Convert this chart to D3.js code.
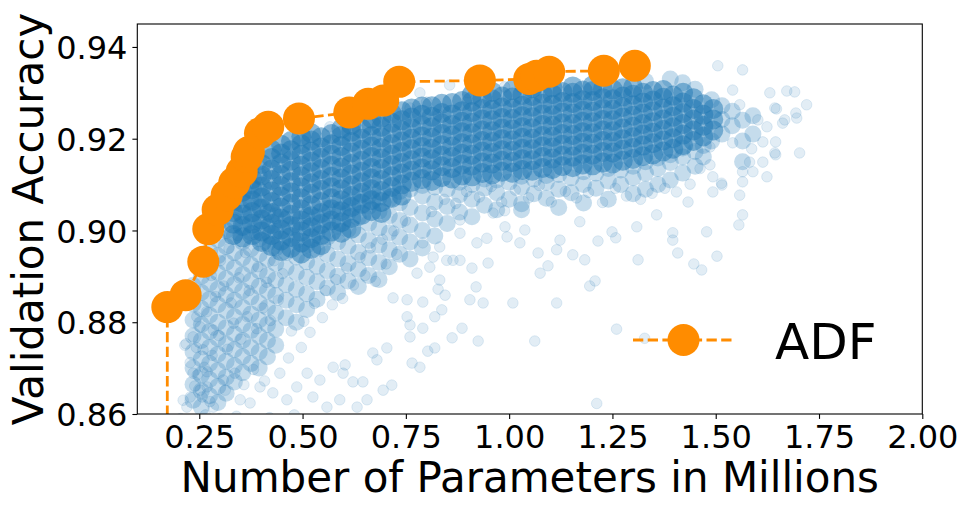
<!DOCTYPE html>
<html>
<head>
<meta charset="utf-8">
<script src="https://cdn.jsdelivr.net/npm/d3@7"></script>
<style>
  body { margin: 0; background: #fff; }
  svg { display: block; }
</style>
</head>
<body>
<script>
// axis ticks
const xTicks = [0.25, 0.5, 0.75, 1.0, 1.25, 1.5, 1.75, 2.0];
const yTicks = [0.86, 0.88, 0.90, 0.92, 0.94];

// ADF pareto front (params in millions, validation accuracy)
const frontParams = [0.1726, 0.2171, 0.2597, 0.2718, 0.2945, 0.3163, 0.3347, 0.3526, 0.3647, 0.3700, 0.3969, 0.4170,
  0.4912, 0.6130, 0.6589, 0.6952, 0.7339, 0.9292, 1.0485, 1.0664, 1.0969, 1.2292, 1.3042];
const frontAcc = [0.8833, 0.8859, 0.8932, 0.9003, 0.9045, 0.9077, 0.9104, 0.9128, 0.9160, 0.9171, 0.9212, 0.9226,
  0.9244, 0.9257, 0.9276, 0.9283, 0.9324, 0.9327, 0.9330, 0.9337, 0.9346, 0.9348, 0.9359];

// sampled models, dense core of the cloud: [params, [accuracies]]
const denseColumns = [
  [0.332, [0.8990, 0.9015, 0.9040]],
  [0.355, [0.8985, 0.9010, 0.9035, 0.9060, 0.9085]],
  [0.378, [0.8990, 0.9015, 0.9040, 0.9065, 0.9090, 0.9112]],
  [0.401, [0.8975, 0.8998, 0.9024, 0.9048, 0.9072, 0.9096, 0.9120, 0.9145]],
  [0.425, [0.8966, 0.8990, 0.9014, 0.9038, 0.9062, 0.9085, 0.9110, 0.9133, 0.9158, 0.9176]],
  [0.448, [0.8955, 0.8978, 0.9002, 0.9026, 0.9050, 0.9074, 0.9097, 0.9121, 0.9146, 0.9168, 0.9187]],
  [0.472, [0.8962, 0.8986, 0.9010, 0.9034, 0.9058, 0.9083, 0.9105, 0.9130, 0.9152, 0.9175, 0.9195]],
  [0.497, [0.8950, 0.8974, 0.8998, 0.9022, 0.9046, 0.9070, 0.9094, 0.9118, 0.9141, 0.9165, 0.9188, 0.9205]],
  [0.521, [0.8960, 0.8983, 0.9007, 0.9031, 0.9055, 0.9080, 0.9103, 0.9127, 0.9150, 0.9172, 0.9196, 0.9212]],
  [0.545, [0.8968, 0.8990, 0.9014, 0.9038, 0.9062, 0.9088, 0.9110, 0.9134, 0.9158, 0.9181, 0.9203]],
  [0.570, [0.8998, 0.9022, 0.9046, 0.9070, 0.9094, 0.9117, 0.9141, 0.9165, 0.9188, 0.9210]],
  [0.594, [0.8995, 0.9018, 0.9042, 0.9066, 0.9090, 0.9113, 0.9137, 0.9160, 0.9184, 0.9206, 0.9222]],
  [0.618, [0.9004, 0.9027, 0.9051, 0.9075, 0.9098, 0.9122, 0.9145, 0.9170, 0.9193, 0.9215, 0.9230]],
  [0.643, [0.9034, 0.9058, 0.9082, 0.9105, 0.9128, 0.9152, 0.9176, 0.9200, 0.9222]],
  [0.667, [0.9042, 0.9066, 0.9090, 0.9113, 0.9136, 0.9160, 0.9183, 0.9206, 0.9229, 0.9244]],
  [0.691, [0.9038, 0.9062, 0.9086, 0.9110, 0.9134, 0.9157, 0.9180, 0.9203, 0.9226, 0.9246]],
  [0.716, [0.9071, 0.9095, 0.9118, 0.9142, 0.9165, 0.9188, 0.9212, 0.9235, 0.9255]],
  [0.740, [0.9076, 0.9100, 0.9124, 0.9147, 0.9171, 0.9194, 0.9218, 0.9240, 0.9260]],
  [0.764, [0.9106, 0.9130, 0.9153, 0.9177, 0.9200, 0.9223, 0.9246, 0.9266]],
  [0.789, [0.9112, 0.9135, 0.9159, 0.9182, 0.9205, 0.9229, 0.9252, 0.9270]],
  [0.813, [0.9108, 0.9131, 0.9155, 0.9178, 0.9202, 0.9225, 0.9248, 0.9271]],
  [0.837, [0.9116, 0.9140, 0.9163, 0.9186, 0.9210, 0.9233, 0.9256, 0.9276]],
  [0.862, [0.9113, 0.9136, 0.9160, 0.9183, 0.9207, 0.9230, 0.9253, 0.9278]],
  [0.886, [0.9120, 0.9144, 0.9167, 0.9190, 0.9214, 0.9237, 0.9260, 0.9282]],
  [0.910, [0.9118, 0.9141, 0.9165, 0.9188, 0.9212, 0.9235, 0.9258, 0.9281, 0.9296]],
  [0.935, [0.9125, 0.9148, 0.9172, 0.9195, 0.9218, 0.9242, 0.9265, 0.9288]],
  [0.959, [0.9122, 0.9146, 0.9169, 0.9193, 0.9216, 0.9240, 0.9263, 0.9286, 0.9302]],
  [0.983, [0.9128, 0.9152, 0.9175, 0.9199, 0.9222, 0.9245, 0.9268, 0.9292]],
  [1.008, [0.9126, 0.9149, 0.9173, 0.9196, 0.9220, 0.9243, 0.9266, 0.9290, 0.9306]],
  [1.032, [0.9132, 0.9155, 0.9178, 0.9202, 0.9225, 0.9249, 0.9272, 0.9295]],
  [1.056, [0.9130, 0.9153, 0.9177, 0.9200, 0.9223, 0.9247, 0.9270, 0.9293, 0.9310]],
  [1.081, [0.9136, 0.9160, 0.9183, 0.9206, 0.9230, 0.9253, 0.9276, 0.9298]],
  [1.105, [0.9134, 0.9157, 0.9181, 0.9204, 0.9228, 0.9251, 0.9274, 0.9297, 0.9312]],
  [1.129, [0.9140, 0.9163, 0.9187, 0.9210, 0.9233, 0.9257, 0.9280, 0.9302]],
  [1.154, [0.9138, 0.9161, 0.9185, 0.9208, 0.9232, 0.9255, 0.9278, 0.9300, 0.9314]],
  [1.178, [0.9144, 0.9167, 0.9191, 0.9214, 0.9237, 0.9261, 0.9284, 0.9305]],
  [1.202, [0.9142, 0.9165, 0.9189, 0.9212, 0.9236, 0.9259, 0.9282, 0.9304, 0.9316]],
  [1.227, [0.9148, 0.9171, 0.9195, 0.9218, 0.9241, 0.9265, 0.9288, 0.9308]],
  [1.251, [0.9146, 0.9170, 0.9193, 0.9216, 0.9240, 0.9263, 0.9286, 0.9307]],
  [1.275, [0.9152, 0.9176, 0.9199, 0.9222, 0.9246, 0.9269, 0.9292, 0.9310]],
  [1.300, [0.9156, 0.9180, 0.9203, 0.9226, 0.9250, 0.9273, 0.9296, 0.9312]],
  [1.324, [0.9162, 0.9185, 0.9209, 0.9232, 0.9255, 0.9279, 0.9300]],
  [1.348, [0.9166, 0.9190, 0.9213, 0.9236, 0.9260, 0.9283, 0.9304]],
  [1.373, [0.9172, 0.9196, 0.9219, 0.9242, 0.9266, 0.9289, 0.9306]],
  [1.397, [0.9178, 0.9201, 0.9225, 0.9248, 0.9271, 0.9294]],
  [1.421, [0.9186, 0.9209, 0.9232, 0.9256, 0.9279, 0.9300]],
  [1.446, [0.9195, 0.9218, 0.9242, 0.9265, 0.9288]],
  [1.470, [0.9205, 0.9228, 0.9252, 0.9275]],
  [1.494, [0.9218, 0.9242, 0.9265]]
];

// sampled models, medium density around the core
const midColumns = [
  [0.235, [0.8630, 0.8665, 0.8700, 0.8735, 0.8770, 0.8805, 0.8840, 0.8880]],
  [0.255, [0.8615, 0.8650, 0.8685, 0.8720, 0.8760, 0.8795, 0.8830, 0.8865, 0.8900]],
  [0.275, [0.8640, 0.8675, 0.8710, 0.8745, 0.8780, 0.8815, 0.8850, 0.8885, 0.8920, 0.8955]],
  [0.295, [0.8625, 0.8660, 0.8695, 0.8730, 0.8765, 0.8800, 0.8838, 0.8872, 0.8908, 0.8945, 0.8980, 0.9015]],
  [0.315, [0.8645, 0.8680, 0.8715, 0.8752, 0.8788, 0.8825, 0.8860, 0.8895, 0.8930, 0.8965, 0.9000, 0.9040]],
  [0.335, [0.8670, 0.8705, 0.8740, 0.8775, 0.8812, 0.8848, 0.8882, 0.8918, 0.8952, 0.8988, 0.9022, 0.9060, 0.9085]],
  [0.355, [0.8690, 0.8725, 0.8760, 0.8795, 0.8832, 0.8868, 0.8904, 0.8940, 0.8975, 0.9010, 0.9045, 0.9080, 0.9110]],
  [0.375, [0.8710, 0.8745, 0.8782, 0.8818, 0.8855, 0.8890, 0.8925, 0.8960, 0.8995, 0.9030, 0.9065, 0.9098, 0.9130]],
  [0.395, [0.8700, 0.8735, 0.8770, 0.8805, 0.8842, 0.8878, 0.8912, 0.8948, 0.8982, 0.9018, 0.9052, 0.9088, 0.9120, 0.9150]],
  [0.415, [0.8725, 0.8760, 0.8795, 0.8832, 0.8868, 0.8902, 0.8938, 0.8972, 0.9008, 0.9040]],
  [0.435, [0.8750, 0.8785, 0.8820, 0.8858, 0.8892, 0.8928, 0.8962, 0.8998, 0.9032]],
  [0.460, [0.8810, 0.8848, 0.8882, 0.8918, 0.8952, 0.8988, 0.9025]],
  [0.485, [0.8800, 0.8838, 0.8872, 0.8908, 0.8942, 0.8978, 0.9012]],
  [0.510, [0.8828, 0.8862, 0.8898, 0.8932, 0.8968, 0.9005, 0.9032]],
  [0.535, [0.8850, 0.8888, 0.8922, 0.8958, 0.8995, 0.9030]],
  [0.560, [0.8875, 0.8912, 0.8948, 0.8985, 0.9020, 0.9048]],
  [0.585, [0.8865, 0.8900, 0.8938, 0.8975, 0.9010, 0.9045]],
  [0.610, [0.8890, 0.8928, 0.8965, 0.9002, 0.9038, 0.9060]],
  [0.635, [0.8878, 0.8915, 0.8952, 0.8990, 0.9028, 0.9062]],
  [0.660, [0.8902, 0.8940, 0.8978, 0.9015, 0.9052, 0.9075]],
  [0.685, [0.8893, 0.8930, 0.8968, 0.9005, 0.9042, 0.9072]],
  [0.710, [0.8921, 0.8958, 0.8995, 0.9032, 0.9068]],
  [0.735, [0.8948, 0.8985, 0.9022, 0.9060, 0.9085]],
  [0.760, [0.8938, 0.8975, 0.9012, 0.9050, 0.9090]],
  [0.790, [0.8962, 0.9000, 0.9038, 0.9075, 0.9098]],
  [0.820, [0.8988, 0.9025, 0.9062, 0.9095]],
  [0.850, [0.9015, 0.9052, 0.9090]],
  [0.880, [0.9040, 0.9078, 0.9105]],
  [0.910, [0.9030, 0.9068, 0.9100]],
  [0.940, [0.9055, 0.9092, 0.9112]],
  [0.970, [0.9045, 0.9082, 0.9110]],
  [1.000, [0.9068, 0.9105]],
  [1.030, [0.9045, 0.9058, 0.9095, 0.9118]],
  [1.060, [0.9080, 0.9112]],
  [1.090, [0.9070, 0.9105, 0.9120]],
  [1.120, [0.9050, 0.9090, 0.9122]],
  [1.150, [0.9082, 0.9115]],
  [1.180, [0.9060, 0.9100, 0.9128]],
  [1.210, [0.9092, 0.9125]],
  [1.240, [0.9068, 0.9108, 0.9135]],
  [1.270, [0.9100, 0.9132]],
  [1.300, [0.9080, 0.9115, 0.9140]],
  [1.330, [0.9090, 0.9125, 0.9150, 0.9325]],
  [1.360, [0.9100, 0.9135, 0.9158]],
  [1.390, [0.9110, 0.9148, 0.9165, 0.9330]],
  [1.420, [0.9125, 0.9160, 0.9180, 0.9322]],
  [1.450, [0.9140, 0.9172, 0.9308]],
  [1.470, [0.9160, 0.9185]],
  [1.490, [0.9195, 0.9285]],
  [1.515, [0.9210, 0.9242, 0.9272]],
  [1.540, [0.9228, 0.9260]],
  [1.565, [0.9150, 0.9195, 0.9240]],
  [1.590, [0.9210, 0.9250]]
];

// sampled models, single visible points
const sparseModels = [
  [0.211, 0.8630], [0.235, 0.8689], [0.235, 0.8768], [0.218, 0.8753], [0.269, 0.8659], [0.257, 0.8637],
  [0.284, 0.8615], [0.252, 0.8790], [0.308, 0.8674], [0.349, 0.8631], [0.373, 0.8624], [0.397, 0.8659],
  [0.428, 0.8646], [0.462, 0.8631], [0.486, 0.8659], [0.511, 0.8689], [0.525, 0.8637], [0.559, 0.8615],
  [0.590, 0.8631], [0.632, 0.8615], [0.656, 0.8631], [0.542, 0.8674], [0.574, 0.8702], [0.598, 0.8689],
  [0.622, 0.8670], [0.646, 0.8670], [0.695, 0.8652], [0.716, 0.8663], [0.603, 0.8707],
  [0.244, 0.8812], [0.215, 0.8750], [0.259, 0.8740], [0.284, 0.8783], [0.228, 0.8637], [0.220, 0.8615],
  [0.252, 0.8652], [0.245, 0.8685], [0.269, 0.8692], [0.300, 0.8590], [0.340, 0.8595], [0.420, 0.8592],
  [0.480, 0.8598], [0.205, 0.8590], [0.265, 0.8598],
  [0.670, 0.8733], [0.704, 0.8744], [0.680, 0.8718], [0.765, 0.8711], [0.784, 0.8702], [0.803, 0.8737],
  [0.820, 0.8744], [0.862, 0.8766], [0.886, 0.8787], [0.925, 0.8759], [1.062, 0.8759], [1.009, 0.8842],
  [0.791, 0.8787], [0.760, 0.8768], [0.760, 0.8794], [0.753, 0.8812], [0.791, 0.8844], [0.820, 0.8812],
  [0.837, 0.8827], [0.905, 0.8849], [0.937, 0.8842], [0.920, 0.8877], [0.828, 0.8872], [0.845, 0.8859],
  [0.753, 0.8849], [0.719, 0.8853], [0.949, 0.8929], [0.910, 0.8918], [1.070, 0.8951], [1.075, 0.8907],
  [1.094, 0.8923], [1.026, 0.8973], [0.995, 0.8986], [0.990, 0.9008], [0.946, 0.8983], [0.881, 0.8935],
  [0.864, 0.8935], [1.115, 0.8958], [1.115, 0.8842],
  [0.777, 0.8907], [0.808, 0.8920], [0.832, 0.8892], [0.849, 0.8935], [0.816, 0.8942], [0.791, 0.8973],
  [0.832, 0.8964], [0.881, 0.8994], [0.922, 0.8973], [0.881, 0.9023], [0.961, 0.9038],
  [1.154, 0.8947], [1.183, 0.8936], [1.215, 0.8977], [1.249, 0.8997], [1.258, 0.8984], [1.312, 0.8936],
  [1.195, 0.8879], [1.208, 0.8890], [1.396, 0.8979], [1.408, 0.8951], [1.447, 0.8927], [1.466, 0.8914],
  [1.478, 0.8997], [1.503, 0.8944], [1.556, 0.9012], [1.565, 0.9034], [1.558, 0.9077], [1.624, 0.9117],
  [1.703, 0.9169], [1.720, 0.9274], [1.691, 0.9302], [1.672, 0.9304], [1.565, 0.9350], [1.505, 0.9359],
  [0.989, 0.9043], [1.038, 0.9001], [1.123, 0.8979], [1.171, 0.9019], [1.309, 0.9008], [1.396, 0.8995],
  [1.357, 0.9034], [1.433, 0.9062], [1.493, 0.9084], [1.515, 0.9099], [1.565, 0.9128], [1.590, 0.9128],
  [1.614, 0.9149], [1.643, 0.9169], [1.645, 0.9193], [1.614, 0.9193], [1.587, 0.9178], [1.662, 0.9234],
  [1.667, 0.9241], [1.696, 0.9245], [1.694, 0.9256], [1.643, 0.9267], [1.631, 0.9300], [1.624, 0.9226],
  [1.602, 0.9241], [1.558, 0.9274], [1.541, 0.9306], [1.647, 0.9265], [1.645, 0.9165], [1.565, 0.9106],
  [1.486, 0.9182], [1.541, 0.9191], [1.514, 0.9103], [1.493, 0.9117], [1.486, 0.9143], [1.582, 0.9149],
  [0.784, 0.9300], [0.800, 0.9280], [0.856, 0.9317], [0.760, 0.9267], [0.828, 0.9252], [0.900, 0.9300],
  [0.989, 0.9313], [1.026, 0.9313], [0.566, 0.9226], [0.640, 0.9262], [0.705, 0.9285],
  [1.212, 0.8623], [1.260, 0.8785], [1.328, 0.8765],
  [0.228, 0.8712], [0.243, 0.8745], [0.262, 0.8702], [0.281, 0.8728], [0.297, 0.8771], [0.318, 0.8741],
  [0.333, 0.8798], [0.351, 0.8763], [0.366, 0.8812], [0.389, 0.8786], [0.404, 0.8831], [0.422, 0.8804],
  [0.441, 0.8848], [0.268, 0.8823], [0.289, 0.8856], [0.309, 0.8879], [0.327, 0.8842], [0.346, 0.8897],
  [0.371, 0.8869], [0.392, 0.8921], [0.413, 0.8887], [0.431, 0.8934], [0.452, 0.8906], [0.279, 0.8902],
  [0.301, 0.8934], [0.322, 0.8961], [0.343, 0.8989], [0.362, 0.8952], [0.384, 0.8991], [0.239, 0.8661],
  [0.276, 0.8627], [0.313, 0.8652], [0.336, 0.8689], [0.358, 0.8664], [0.381, 0.8697], [0.408, 0.8672],
  [0.445, 0.8689], [0.466, 0.8722], [0.497, 0.8745], [0.518, 0.8778], [0.548, 0.8810], [0.572, 0.8838],
  [0.597, 0.8852], [0.623, 0.8881], [0.651, 0.8902], [0.676, 0.8889], [0.702, 0.8927], [0.728, 0.8948],
  [0.473, 0.8781], [0.503, 0.8802], [0.529, 0.8841], [0.556, 0.8869], [0.581, 0.8893], [0.607, 0.8918],
  [0.639, 0.8941], [0.664, 0.8962], [0.693, 0.8981], [0.721, 0.8999], [0.749, 0.9021],
  [0.812, 0.9041], [0.843, 0.9068], [0.871, 0.9059], [0.897, 0.9085], [0.928, 0.9073], [0.957, 0.9096],
  [0.982, 0.9062], [1.015, 0.9088], [1.047, 0.9071], [1.073, 0.9098], [1.102, 0.9062], [1.136, 0.9085],
  [1.163, 0.9071], [1.192, 0.9083], [1.226, 0.9061], [1.257, 0.9092], [1.284, 0.9075], [1.318, 0.9068],
  [1.346, 0.9081], [1.377, 0.9092], [1.405, 0.9084], [1.438, 0.9101], [1.462, 0.9135]
];

const w = 969, h = 512;
const blue = '#1f77b4', orange = '#ff8c00';
const font = '"DejaVu Sans", sans-serif';

const svg = d3.select('body').append('svg').attr('width', w).attr('height', h);

const x = d3.scaleLinear().domain([0.1, 2.0]).range([137.3, 922.3]);
const y = d3.scaleLinear().domain([0.86, 0.945]).range([414, 24]);

svg.append('defs').append('clipPath').attr('id', 'plot-area')
  .append('rect')
  .attr('x', x.range()[0]).attr('y', y.range()[1])
  .attr('width', x.range()[1] - x.range()[0])
  .attr('height', y.range()[0] - y.range()[1]);

const plot = svg.append('g').attr('clip-path', 'url(#plot-area)');

function drawModels(points, r, alpha, edge) {
  plot.append('g')
    .selectAll('circle')
    .data(points)
    .enter()
    .append('circle')
    .attr('cx', d => x(d[0]))
    .attr('cy', d => y(d[1]))
    .attr('r', r)
    .attr('fill', blue)
    .attr('fill-opacity', alpha)
    .attr('stroke', edge ? blue : 'none')
    .attr('stroke-opacity', alpha)
    .attr('stroke-width', 1);
}

const flatten = cols => cols.flatMap(([p, accs]) => accs.map(a => [p, a]));

drawModels(flatten(midColumns), 8.5, 0.26, false);
drawModels(flatten(denseColumns), 10, 0.5, false);
drawModels(sparseModels, 5.3, 0.13, true);

// pareto front, with the drop from its first point to the floor
const front = frontParams.map((p, i) => [p, frontAcc[i]]);
const line = d3.line().x(d => x(d[0])).y(d => y(d[1]));

plot.append('path')
  .datum([[frontParams[0], y.domain()[0] - 0.01], ...front])
  .attr('d', line)
  .attr('fill', 'none')
  .attr('stroke', orange)
  .attr('stroke-width', 2.8)
  .attr('stroke-dasharray', '10.3,4.4');

svg.append('g')
  .selectAll('circle')
  .data(front)
  .enter()
  .append('circle')
  .attr('cx', d => x(d[0]))
  .attr('cy', d => y(d[1]))
  .attr('r', 16)
  .attr('fill', orange);

// axes
const xAxis = d3.axisBottom(x).tickValues(xTicks).tickFormat(d3.format('.2f')).tickSize(4.9).tickPadding(6);
svg.append('g')
  .attr('transform', `translate(0,${y.range()[0]})`)
  .call(xAxis)
  .attr('font-size', 32)
  .attr('font-family', font)
  .call(g => g.select('.domain').remove())
  .call(g => g.selectAll('line').attr('stroke-width', 1.1));

const yAxis = d3.axisLeft(y).tickValues(yTicks).tickFormat(d3.format('.2f')).tickSize(4.9).tickPadding(5);
svg.append('g')
  .attr('transform', `translate(${x.range()[0]},0)`)
  .call(yAxis)
  .attr('font-size', 32)
  .attr('font-family', font)
  .call(g => g.select('.domain').remove())
  .call(g => g.selectAll('line').attr('stroke-width', 1.1))
  .call(g => g.selectAll('text').attr('dy', '0.365em'));

// frame
svg.append('rect')
  .attr('x', x.range()[0]).attr('y', y.range()[1])
  .attr('width', x.range()[1] - x.range()[0])
  .attr('height', y.range()[0] - y.range()[1])
  .attr('fill', 'none')
  .attr('stroke', '#000')
  .attr('stroke-width', 1.1);

// axis titles
svg.append('text')
  .attr('x', (x.range()[0] + x.range()[1]) / 2)
  .attr('y', 492)
  .attr('text-anchor', 'middle')
  .attr('font-family', font)
  .attr('font-size', 42)
  .text('Number of Parameters in Millions');

svg.append('text')
  .attr('transform', `translate(43,${(y.range()[0] + y.range()[1]) / 2}) rotate(-90)`)
  .attr('text-anchor', 'middle')
  .attr('font-family', font)
  .attr('font-size', 42)
  .text('Validation Accuracy');

// legend
const legend = svg.append('g').attr('transform', 'translate(633,340)');
legend.append('line')
  .attr('x1', 0).attr('x2', 101).attr('y1', 0).attr('y2', 0)
  .attr('stroke', orange)
  .attr('stroke-width', 2.8)
  .attr('stroke-dasharray', '10.3,4.4');
legend.append('circle').attr('cx', 50.5).attr('cy', 0).attr('r', 16).attr('fill', orange);
legend.append('text')
  .attr('x', 142).attr('y', 19)
  .attr('font-family', font)
  .attr('font-size', 50)
  .text('ADF');
</script>
</body>
</html>
